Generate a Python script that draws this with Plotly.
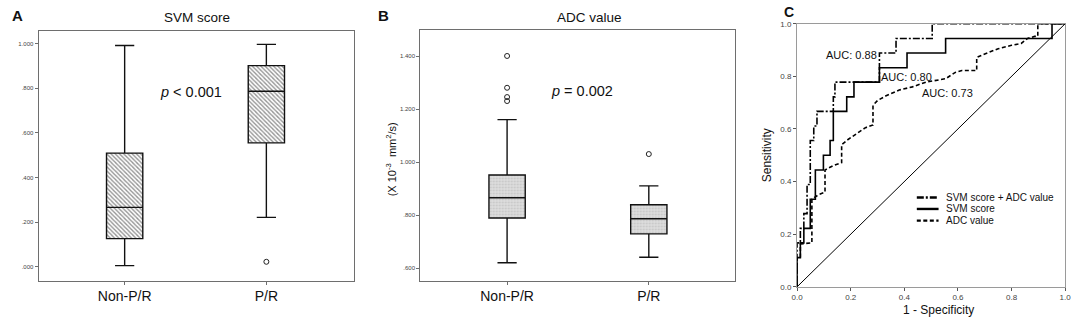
import plotly.graph_objects as go

FONT = "Liberation Sans, Arial, sans-serif"
W, H = 1084, 330

# ---------------- data ----------------
groups = ["Non-P/R", "P/R"]

# Panel A: SVM score box statistics
svm_q1 = [0.126, 0.555]
svm_median = [0.266, 0.786]
svm_q3 = [0.509, 0.901]
svm_lower = [0.005, 0.221]
svm_upper = [0.991, 0.996]
svm_out_group = ["P/R"]
svm_out_value = [0.022]

# Panel B: ADC value box statistics (x10^-3 mm^2/s)
adc_q1 = [0.790, 0.730]
adc_median = [0.866, 0.787]
adc_q3 = [0.952, 0.840]
adc_lower = [0.621, 0.642]
adc_upper = [1.161, 0.911]
adc_out_group = ["Non-P/R", "Non-P/R", "Non-P/R", "Non-P/R", "P/R"]
adc_out_value = [1.401, 1.281, 1.246, 1.231, 1.031]

ab_ticks = [0.0, 0.2, 0.4, 0.6, 0.8, 1.0]
ab_ticktext = [".000", ".200", ".400", ".600", ".800", "1.000"]
b_ticks = [0.6, 0.8, 1.0, 1.2, 1.4]
b_ticktext = [".600", ".800", "1.000", "1.200", "1.400"]

# Panel C: ROC curves (1 - specificity, sensitivity)
comb_fpr = [0.0, 0.0, 0.012, 0.012, 0.025, 0.025, 0.037, 0.037, 0.049, 0.049, 0.062, 0.062,
            0.074, 0.074, 0.135, 0.135, 0.141, 0.141, 0.307, 0.307, 0.369, 0.369, 0.504, 0.504, 1.0]
comb_tpr = [0.0, 0.167, 0.167, 0.222, 0.222, 0.278, 0.278, 0.389, 0.389, 0.556, 0.556, 0.611,
            0.611, 0.667, 0.667, 0.722, 0.722, 0.778, 0.778, 0.889, 0.889, 0.944, 0.944, 1.0, 1.0]

svm_fpr = [0.0, 0.0, 0.012, 0.012, 0.025, 0.025, 0.049, 0.049, 0.068, 0.068, 0.098, 0.098,
           0.123, 0.123, 0.135, 0.135, 0.185, 0.185, 0.212, 0.212, 0.307, 0.307, 0.410, 0.410,
           0.554, 0.554, 0.951, 0.951, 1.0]
svm_tpr = [0.0, 0.111, 0.111, 0.167, 0.167, 0.222, 0.222, 0.333, 0.333, 0.444, 0.444, 0.500,
           0.500, 0.556, 0.556, 0.667, 0.667, 0.722, 0.722, 0.778, 0.778, 0.833, 0.833, 0.889,
           0.889, 0.944, 0.944, 1.0, 1.0]

adc_fpr = [0.0, 0.0, 0.012, 0.012, 0.055, 0.055, 0.080, 0.104, 0.104, 0.135, 0.166, 0.166,
           0.190, 0.225, 0.255, 0.283, 0.283, 0.300, 0.330, 0.381, 0.430, 0.480, 0.554, 0.590,
           0.615, 0.670, 0.670, 0.700, 0.750, 0.800, 0.836, 0.860, 0.886, 0.898, 0.898, 1.0]
adc_tpr = [0.0, 0.111, 0.111, 0.163, 0.167, 0.333, 0.350, 0.360, 0.444, 0.461, 0.472, 0.540,
           0.560, 0.585, 0.605, 0.615, 0.690, 0.708, 0.725, 0.748, 0.760, 0.778, 0.791, 0.815,
           0.822, 0.822, 0.872, 0.885, 0.905, 0.918, 0.925, 0.944, 0.952, 0.952, 1.0, 1.0]

roc_ticks = [0.0, 0.2, 0.4, 0.6, 0.8, 1.0]
roc_ticktext = ["0.0", "0.2", "0.4", "0.6", "0.8", "1.0"]

legend_labels = ["SVM score + ADC value", "SVM score", "ADC value"]
auc_labels = ["AUC: 0.88", "AUC: 0.80", "AUC: 0.73"]

# ---------------- figure ----------------
fig = go.Figure()

def px_x(p):
    return p / W

def px_y(p):
    return 1 - p / H

BOXW = 0.256

# Panel A: hatched box fill (bar) + box outline
fig.add_trace(go.Bar(
    x=groups, y=[q3 - q1 for q1, q3 in zip(svm_q1, svm_q3)], base=svm_q1, width=BOXW,
    marker=dict(color="white", line=dict(width=0),
                pattern=dict(shape="\\", fgcolor="#2a2a2a", bgcolor="white", size=3, solidity=0.45)),
    xaxis="x", yaxis="y", hoverinfo="skip"))
fig.add_trace(go.Box(
    x=groups, q1=svm_q1, median=svm_median, q3=svm_q3, lowerfence=svm_lower, upperfence=svm_upper,
    width=BOXW, whiskerwidth=0.53, boxpoints=False, fillcolor="rgba(0,0,0,0)",
    line=dict(color="#111", width=1.4), xaxis="x", yaxis="y"))
fig.add_trace(go.Scatter(
    x=svm_out_group, y=svm_out_value, mode="markers",
    marker=dict(symbol="circle-open", size=5, color="#222", line=dict(width=1)),
    xaxis="x", yaxis="y"))

# Panel B
fig.add_trace(go.Bar(
    x=groups, y=[q3 - q1 for q1, q3 in zip(adc_q1, adc_q3)], base=adc_q1, width=BOXW,
    marker=dict(color="#d6d6d6", line=dict(width=0),
                pattern=dict(shape=".", fgcolor="#a8a8a8", bgcolor="#dedede", size=3, solidity=0.3)),
    xaxis="x2", yaxis="y2", hoverinfo="skip"))
fig.add_trace(go.Box(
    x=groups, q1=adc_q1, median=adc_median, q3=adc_q3, lowerfence=adc_lower, upperfence=adc_upper,
    width=BOXW, whiskerwidth=0.53, boxpoints=False, fillcolor="rgba(0,0,0,0)",
    line=dict(color="#111", width=1.4), xaxis="x2", yaxis="y2"))
fig.add_trace(go.Scatter(
    x=adc_out_group, y=adc_out_value, mode="markers",
    marker=dict(symbol="circle-open", size=5, color="#222", line=dict(width=1)),
    xaxis="x2", yaxis="y2"))

# Panel C
fig.add_trace(go.Scatter(x=[0, 1], y=[0, 1], mode="lines",
                         line=dict(color="black", width=1), xaxis="x3", yaxis="y3"))
fig.add_trace(go.Scatter(x=adc_fpr, y=adc_tpr, mode="lines",
                         line=dict(color="black", width=1.6, dash="4px,2.5px"),
                         xaxis="x3", yaxis="y3"))
fig.add_trace(go.Scatter(x=svm_fpr, y=svm_tpr, mode="lines",
                         line=dict(color="black", width=1.6), xaxis="x3", yaxis="y3"))
fig.add_trace(go.Scatter(x=comb_fpr, y=comb_tpr, mode="lines",
                         line=dict(color="black", width=1.6, dash="7px,2px,2px,2px"),
                         xaxis="x3", yaxis="y3"))

frame = "#6e6e6e"
tickfont_small = dict(family=FONT, size=6, color="#444")

cat_axis = dict(type="category", categoryarray=groups, range=[-0.607, 1.617],
                showline=True, linecolor=frame, linewidth=1.2, mirror=True,
                ticks="outside", ticklen=3, tickcolor=frame,
                tickfont=dict(family=FONT, size=14, color="#111"),
                showgrid=False, zeroline=False, fixedrange=True)

fig.update_layout(
    width=W, height=H, margin=dict(l=0, r=0, t=0, b=0),
    paper_bgcolor="white", plot_bgcolor="white", showlegend=False,
    font=dict(family=FONT, color="#111"),
    barmode="overlay", boxmode="overlay",
    xaxis=dict(cat_axis, domain=[px_x(33), px_x(351.7)], anchor="y"),
    yaxis=dict(domain=[px_y(284.3), px_y(27.3)], anchor="x", range=[-0.062, 1.058],
               tickvals=ab_ticks, ticktext=ab_ticktext, tickfont=tickfont_small,
               ticks="outside", ticklen=3, tickcolor=frame,
               showline=True, linecolor=frame, linewidth=1.2, mirror=True,
               showgrid=False, zeroline=False),
    xaxis2=dict(cat_axis, domain=[px_x(419), px_x(736.7)], anchor="y2", range=[-0.612, 1.605]),
    yaxis2=dict(domain=[px_y(284.3), px_y(26.7)], anchor="x2", range=[0.554, 1.499],
                tickvals=b_ticks, ticktext=b_ticktext, tickfont=tickfont_small,
                ticks="outside", ticklen=3, tickcolor=frame,
                showline=True, linecolor=frame, linewidth=1.2, mirror=True,
                showgrid=False, zeroline=False),
    xaxis3=dict(domain=[px_x(800), px_x(1071)], anchor="y3", range=[0, 1.0],
                tickvals=roc_ticks, ticktext=roc_ticktext,
                tickfont=dict(family=FONT, size=8, color="#444"),
                ticks="outside", ticklen=3, tickcolor="#555",
                showline=True, linecolor="#9a9a9a", linewidth=1.2, mirror=True,
                showgrid=False, zeroline=False),
    yaxis3=dict(domain=[px_y(290.7), px_y(20.3)], anchor="x3", range=[0, 1.0],
                tickvals=roc_ticks, ticktext=roc_ticktext,
                tickfont=dict(family=FONT, size=8, color="#444"),
                ticks="outside", ticklen=3, tickcolor="#555",
                showline=True, linecolor="#9a9a9a", linewidth=1.2, mirror=True,
                showgrid=False, zeroline=False),
)

ann = []
def text(x, y, s, size, **kw):
    d = dict(x=px_x(x), y=px_y(y), xref="paper", yref="paper", text=s, showarrow=False,
             font=dict(family=FONT, size=size, color=kw.pop("color", "#111")),
             xanchor=kw.pop("xanchor", "center"), yanchor=kw.pop("yanchor", "middle"))
    d.update(kw)
    ann.append(d)

# panel letters and titles
text(4, 12, "<b>A</b>", 15, xanchor="left")
text(374, 12, "<b>B</b>", 15, xanchor="left")
text(785, 8, "<b>C</b>", 14, xanchor="left")
text(193, 14, "SVM score", 13.5)
text(590, 14, "ADC value", 13.5)
# p values
text(187, 90, "<i>p</i> &lt; 0.001", 14.5)
text(582, 89, "<i>p</i> = 0.002", 14.5)
# B y-axis title
text(389, 160, "(X 10<sup>-3</sup>  mm<sup>2</sup>/s)", 11, textangle=-90)
# C axis titles
text(769, 155, "Sensitivity", 12, textangle=-90)
text(943, 315, "1 - Specificity", 12)
# AUC labels
text(855, 52, auc_labels[0], 11)
text(911, 75, auc_labels[1], 11)
text(952, 91, auc_labels[2], 11)

# manual legend (lines + labels) in panel C
leg_y = [199, 210.7, 222.7]
leg_dash = ["7px,2px,2px,2px", "solid", "4px,2.5px"]
shapes = []
for yy, lab, dsh in zip(leg_y, legend_labels, leg_dash):
    shapes.append(dict(type="line", xref="paper", yref="paper",
                       x0=px_x(921), x1=px_x(943), y0=px_y(yy), y1=px_y(yy),
                       line=dict(color="black", width=2.4, dash=dsh)))
    text(948, yy, lab, 10, xanchor="left")

fig.update_layout(annotations=ann, shapes=shapes)
fig.write_html("out.html", config={"displayModeBar": False},
               post_script="document.body.style.margin='0';document.body.style.padding='0';")
